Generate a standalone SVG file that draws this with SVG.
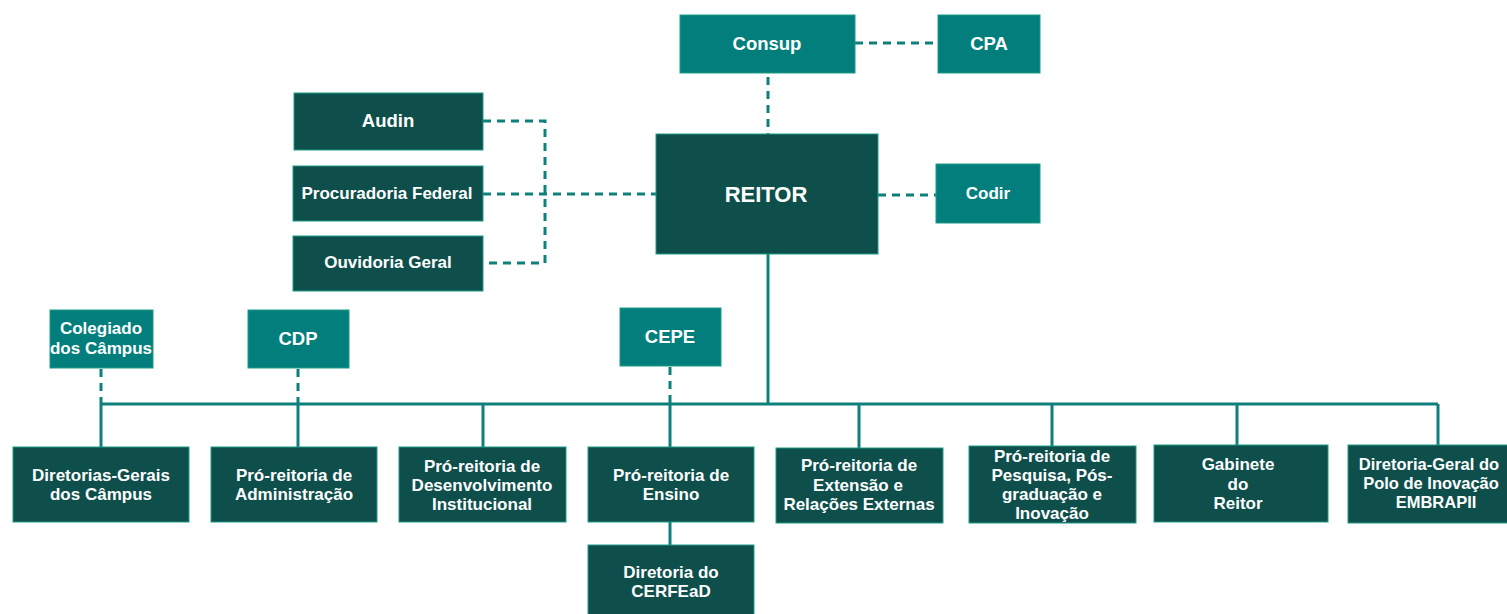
<svg xmlns="http://www.w3.org/2000/svg" width="1507" height="614" viewBox="0 0 1507 614">
<style>
.l{fill:#027F7C;stroke:#1F9C86;stroke-width:1}
.d{fill:#0E4F4C;stroke:#1F9C86;stroke-width:1}
text{font-family:"Liberation Sans",Arial,sans-serif;font-weight:bold;font-size:17px;fill:#ffffff;text-anchor:middle}
.m{font-size:18.5px}
.big{font-size:22px}
.s{font-size:16.5px}
.sol{stroke:#0E807C;stroke-width:3;fill:none}
.dash{stroke:#0E807C;stroke-width:3;fill:none;stroke-dasharray:8 6}
</style>
<rect width="1507" height="614" fill="#ffffff"/>
<g id="connectors">
<path class="dash" d="M768 77V134"/>
<path class="dash" d="M855 43H938"/>
<path class="dash" d="M483 121H545V263H483"/>
<path class="dash" d="M483 194H656"/>
<path class="dash" d="M878 195H936"/>
<path class="sol" d="M768 254V404"/>
<path class="sol" d="M101 404H1438"/>
<path class="dash" d="M101 369V404"/>
<path class="dash" d="M298 369V404"/>
<path class="dash" d="M670 367V404"/>
<path class="sol" d="M101 404V447M298 404V447M483 404V447M670 404V447M859 404V448M1052 404V446M1237 404V445M1438 404V445"/>
<path class="sol" d="M670 522V545"/>
</g>
<g id="consup"><rect class="l" x="680" y="15" width="175" height="58"/><text class="m" x="767" y="50">Consup</text></g>
<g id="cpa"><rect class="l" x="938" y="15" width="102" height="58"/><text class="m" x="989" y="50">CPA</text></g>
<g id="audin"><rect class="d" x="294" y="93" width="189" height="57"/><text class="m" x="388" y="127">Audin</text></g>
<g id="procuradoria"><rect class="d" x="293" y="166" width="190" height="55"/><text x="387" y="199">Procuradoria Federal</text></g>
<g id="ouvidoria"><rect class="d" x="293" y="236" width="190" height="55"/><text x="388" y="268">Ouvidoria Geral</text></g>
<g id="reitor"><rect class="d" x="656" y="134" width="222" height="120"/><text class="big" x="766" y="202">REITOR</text></g>
<g id="codir"><rect class="l" x="936" y="164" width="104" height="59"/><text x="988" y="199">Codir</text></g>
<g id="colegiado"><rect class="l" x="50" y="310" width="103" height="58"/><text x="101" y="334">Colegiado</text><text x="101" y="354">dos Câmpus</text></g>
<g id="cdp"><rect class="l" x="248" y="310" width="101" height="58"/><text class="m" x="298" y="345">CDP</text></g>
<g id="cepe"><rect class="l" x="620" y="308" width="101" height="58"/><text class="m" x="670" y="343">CEPE</text></g>
<g id="diretorias"><rect class="d" x="13" y="447" width="176" height="75"/><text x="101" y="481">Diretorias-Gerais</text><text x="101" y="500">dos Câmpus</text></g>
<g id="proad"><rect class="d" x="211" y="447" width="166" height="75"/><text x="294" y="481">Pró-reitoria de</text><text x="294" y="500">Administração</text></g>
<g id="prodi"><rect class="d" x="399" y="447" width="167" height="75"/><text x="482" y="472">Pró-reitoria de</text><text x="482" y="491">Desenvolvimento</text><text x="482" y="510">Institucional</text></g>
<g id="proen"><rect class="d" x="588" y="447" width="166" height="75"/><text x="671" y="481">Pró-reitoria de</text><text x="671" y="500">Ensino</text></g>
<g id="proex"><rect class="d" x="776" y="448" width="167" height="75"/><text x="859" y="471">Pró-reitoria de</text><text x="858" y="491">Extensão e</text><text x="859" y="510">Relações Externas</text></g>
<g id="proppi"><rect class="d" x="969" y="446" width="167" height="77"/><text x="1052" y="462">Pró-reitoria de</text><text x="1052" y="481">Pesquisa, Pós-</text><text x="1052" y="500">graduação e</text><text x="1052" y="519">Inovação</text></g>
<g id="gabinete"><rect class="d" x="1154" y="445" width="174" height="77"/><text x="1238" y="470">Gabinete</text><text x="1238" y="490">do</text><text x="1238" y="509">Reitor</text></g>
<g id="embrapii"><rect class="d" x="1348" y="445" width="180" height="78"/><text class="s" x="1429" y="470">Diretoria-Geral do</text><text class="s" x="1431" y="489">Polo de Inovação</text><text class="s" x="1436" y="508">EMBRAPII</text></g>
<g id="cerfead"><rect class="d" x="588" y="545" width="166" height="75"/><text x="671" y="578">Diretoria do</text><text x="671" y="597">CERFEaD</text></g>
</svg>
